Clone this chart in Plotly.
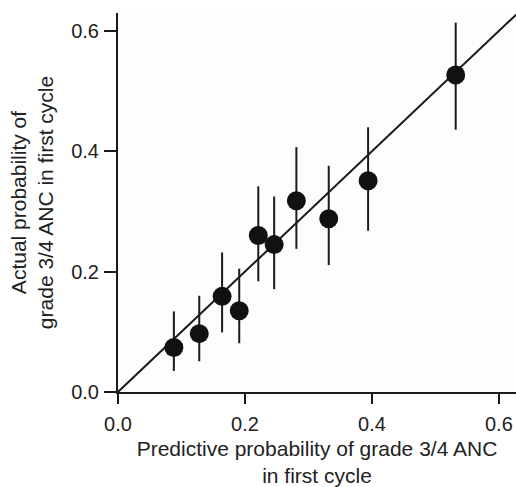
import plotly.graph_objects as go

# predicted vs actual probability (grade 3/4 ANC, first cycle)
predicted = [0.088, 0.128, 0.164, 0.191, 0.221, 0.246, 0.281, 0.332, 0.394, 0.532]
actual = [0.074, 0.097, 0.159, 0.135, 0.260, 0.245, 0.318, 0.288, 0.351, 0.527]
ci_upper = [0.134, 0.160, 0.232, 0.205, 0.342, 0.325, 0.407, 0.376, 0.440, 0.614]
ci_lower = [0.035, 0.051, 0.099, 0.081, 0.184, 0.171, 0.238, 0.211, 0.268, 0.436]
identity = [0, 0.7]
ticks = [0.0, 0.2, 0.4, 0.6]
tick_labels = ["0.0", "0.2", "0.4", "0.6"]

err_plus = [u - a for u, a in zip(ci_upper, actual)]
err_minus = [a - l for a, l in zip(actual, ci_lower)]

fig = go.Figure()

fig.add_trace(go.Scatter(
    x=identity, y=identity,
    mode="lines",
    line=dict(color="#1a1a1a", width=2),
    showlegend=False, hoverinfo="skip"
))

fig.add_trace(go.Scatter(
    x=predicted, y=actual,
    mode="markers",
    marker=dict(size=19, color="#111111"),
    error_y=dict(type="data", array=err_plus, arrayminus=err_minus,
                 thickness=2, width=0, color="#1a1a1a"),
    showlegend=False
))

fig.update_layout(
    width=516, height=487,
    margin=dict(l=118, r=0, t=13, b=95),
    paper_bgcolor="white",
    plot_bgcolor="#fdfdfd",
    font=dict(family="Arial", size=17.5, color="#222222"),
    xaxis=dict(
        range=[0, 0.627],
        tickmode="array", tickvals=ticks, ticktext=tick_labels,
        showgrid=False, zeroline=False,
        showline=True, linecolor="#1a1a1a", linewidth=2,
        ticks="outside", ticklen=10, tickwidth=2, tickcolor="#1a1a1a",
        ticklabelstandoff=3, automargin=False,
        tickfont=dict(family="Arial", size=20, color="#222222"),
        title=dict(text="Predictive probability of grade 3/4 ANC<br>in first cycle",
                   standoff=13)
    ),
    yaxis=dict(
        range=[0, 0.63],
        tickmode="array", tickvals=ticks, ticktext=tick_labels,
        showgrid=False, zeroline=False,
        showline=True, linecolor="#1a1a1a", linewidth=2,
        ticks="outside", ticklen=12, tickwidth=2, tickcolor="#1a1a1a",
        ticklabelstandoff=1, automargin=False,
        tickfont=dict(family="Arial", size=20, color="#222222"),
        title=dict(text="Actual probability of<br>grade 3/4 ANC in first cycle",
                   standoff=12)
    )
)

# drop the default 8px page margin so the figure fills the window
fig.write_html("out.html", config={"displayModeBar": False},
               post_script="document.body.style.margin='0px';")
